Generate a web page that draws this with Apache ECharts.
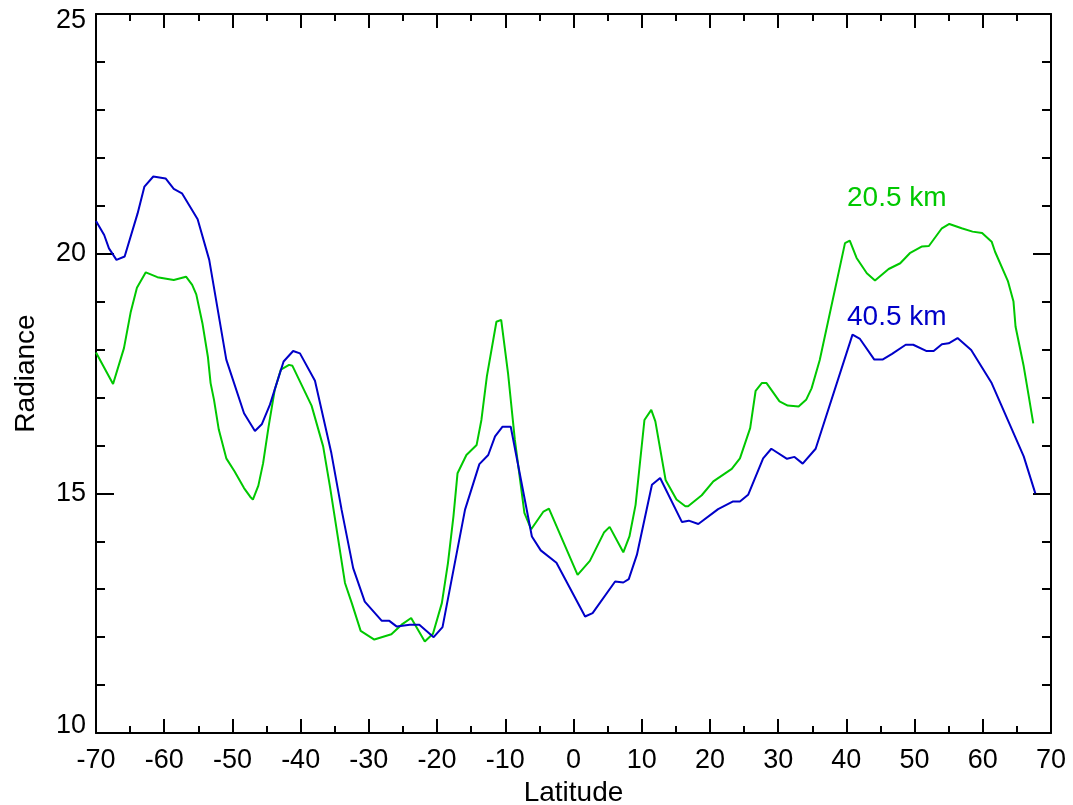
<!DOCTYPE html>
<html>
<head>
<meta charset="utf-8">
<script src="https://cdn.jsdelivr.net/npm/echarts@6/dist/echarts.min.js"></script>
<style>
html,body{margin:0;padding:0;background:#fff;}
#chart{width:1073px;height:805px;}
</style>
</head>
<body>
<div id="chart"></div>
<script>
// Latitude / radiance readings
var blueLat = [-70, -68.8, -68.1, -67.0, -65.8, -63.9, -62.9, -61.6, -59.8, -58.6, -57.4, -55.1, -53.4, -50.9, -48.3, -46.7, -45.7, -44.5, -42.5, -41.1, -40.1, -37.9, -35.5, -34.0, -32.3, -30.6, -28.1, -27.0, -25.9, -24.0, -22.6, -20.5, -19.2, -15.9, -13.8, -12.5, -11.5, -10.4, -9.2, -6.1, -4.8, -2.5, 1.7, 2.8, 6.1, 7.3, 8.1, 9.3, 11.5, 12.7, 15.9, 16.9, 18.3, 21.2, 23.4, 24.4, 25.6, 27.8, 29.0, 31.3, 32.4, 33.6, 35.5, 40.9, 42.0, 44.1, 45.3, 46.7, 48.7, 49.8, 51.7, 52.8, 54.0, 55.0, 56.3, 58.3, 61.3, 66.0, 67.7];
var blueVal = [20.68, 20.39, 20.11, 19.87, 19.94, 20.84, 21.40, 21.61, 21.57, 21.35, 21.26, 20.72, 19.87, 17.79, 16.67, 16.30, 16.44, 16.85, 17.75, 17.97, 17.92, 17.35, 15.84, 14.66, 13.44, 12.74, 12.34, 12.34, 12.22, 12.26, 12.26, 12.00, 12.21, 14.66, 15.61, 15.80, 16.19, 16.39, 16.39, 14.10, 13.81, 13.55, 12.43, 12.50, 13.16, 13.14, 13.21, 13.72, 15.18, 15.32, 14.40, 14.43, 14.36, 14.67, 14.83, 14.83, 14.97, 15.73, 15.93, 15.72, 15.76, 15.62, 15.93, 18.31, 18.22, 17.79, 17.79, 17.91, 18.10, 18.10, 17.97, 17.97, 18.11, 18.13, 18.24, 17.99, 17.30, 15.77, 15.00];

var greenLat = [-70, -67.5, -65.9, -64.9, -64.0, -62.7, -61.0, -58.6, -56.8, -55.9, -55.3, -54.4, -53.6, -53.2, -52.7, -52.0, -50.9, -49.7, -48.3, -47.4, -47.0, -46.2, -45.5, -44.7, -43.8, -42.9, -41.7, -41.2, -38.4, -36.7, -35.7, -33.5, -32.5, -31.2, -29.2, -26.7, -25.2, -23.8, -21.8, -20.6, -19.3, -18.4, -17.6, -17.0, -15.7, -14.2, -13.5, -12.7, -11.3, -10.6, -9.6, -8.6, -7.2, -6.2, -4.4, -3.6, 0.6, 2.4, 4.5, 5.3, 7.3, 8.2, 9.1, 10.4, 11.4, 12.0, 13.5, 15.1, 16.4, 16.8, 18.8, 20.5, 23.2, 24.4, 25.9, 26.7, 27.6, 28.3, 30.2, 31.4, 33.0, 34.1, 34.9, 36.1, 39.8, 40.5, 41.5, 43.0, 44.2, 46.2, 47.9, 49.3, 51.1, 52.1, 54.0, 55.1, 56.9, 58.5, 59.9, 61.3, 61.8, 63.7, 64.5, 64.8, 66.0, 66.7, 67.4];
var greenVal = [17.94, 17.28, 18.03, 18.79, 19.29, 19.61, 19.51, 19.45, 19.52, 19.35, 19.15, 18.55, 17.85, 17.30, 16.95, 16.33, 15.73, 15.46, 15.11, 14.93, 14.87, 15.16, 15.63, 16.39, 17.16, 17.58, 17.68, 17.66, 16.83, 15.98, 15.14, 13.13, 12.71, 12.13, 11.95, 12.06, 12.26, 12.40, 11.91, 12.07, 12.71, 13.55, 14.52, 15.42, 15.80, 16.01, 16.53, 17.44, 18.58, 18.62, 17.51, 16.12, 14.59, 14.25, 14.62, 14.68, 13.30, 13.59, 14.19, 14.30, 13.77, 14.10, 14.76, 16.53, 16.74, 16.50, 15.28, 14.87, 14.73, 14.73, 14.96, 15.25, 15.51, 15.73, 16.36, 17.14, 17.30, 17.30, 16.92, 16.83, 16.81, 16.95, 17.19, 17.78, 20.22, 20.27, 19.91, 19.59, 19.44, 19.68, 19.80, 20.01, 20.15, 20.16, 20.53, 20.62, 20.53, 20.46, 20.43, 20.25, 20.04, 19.42, 19.00, 18.48, 17.65, 17.06, 16.46];

var seriesNames = ['20.5 km', '40.5 km'];
var xTitle = 'Latitude';
var yTitle = 'Radiance';
var yMin = 10, yMax = 25;

function pairs(xs, ys) { return xs.map(function (x, i) { return [x, ys[i]]; }); }

var FONT = 'Liberation Sans, Arial, Helvetica, sans-serif';
var GREEN = '#00c800';
var BLUE = '#0000c8';

function xAxisDef(pos, showLabel) {
  return {
    type: 'value', position: pos, min: -70, max: 70, interval: 10,
    axisLine: { show: true, onZero: false, lineStyle: { color: '#000', width: 2 } },
    axisTick: { show: true, inside: true, length: 14, lineStyle: { color: '#000', width: 2 } },
    minorTick: { show: true, splitNumber: 2, length: 7, lineStyle: { color: '#000', width: 2 } },
    splitLine: { show: false }, minorSplitLine: { show: false },
    axisLabel: { show: showLabel, fontSize: 27, color: '#000', fontFamily: FONT, margin: 14 },
    name: showLabel ? xTitle : '', nameLocation: 'middle', nameGap: 45,
    nameTextStyle: { fontSize: 28, color: '#000', fontFamily: FONT }
  };
}
function yAxisDef(pos, showLabel) {
  return {
    type: 'value', position: pos, min: yMin, max: yMax, interval: 5,
    axisLine: { show: true, onZero: false, lineStyle: { color: '#000', width: 2 } },
    axisTick: { show: true, inside: true, length: 18, lineStyle: { color: '#000', width: 2 } },
    minorTick: { show: true, splitNumber: 5, length: 9, lineStyle: { color: '#000', width: 2 } },
    splitLine: { show: false }, minorSplitLine: { show: false },
    axisLabel: {
      show: showLabel, fontSize: 27, color: '#000', fontFamily: FONT, margin: 10,
      formatter: function (v) {
        if (v === yMax) return '{hi|' + v + '}';
        if (v === yMin) return '{lo|' + v + '}';
        return '' + v;
      },
      rich: {
        hi: { fontSize: 27, fontFamily: FONT, color: '#000', padding: [13, 0, 0, 0] },
        lo: { fontSize: 27, fontFamily: FONT, color: '#000', padding: [0, 0, 14, 0] }
      }
    },
    name: showLabel ? yTitle : '', nameLocation: 'middle', nameGap: 56, nameRotate: 90,
    nameTextStyle: { fontSize: 28, color: '#000', fontFamily: FONT }
  };
}

var chart = echarts.init(document.getElementById('chart'), null, { renderer: 'canvas' });
chart.setOption({
  animation: false,
  backgroundColor: '#fff',
  grid: { left: 96, right: 22, top: 14, bottom: 72, containLabel: false, outerBoundsMode: 'none' },
  xAxis: [xAxisDef('bottom', true), xAxisDef('top', false)],
  yAxis: [yAxisDef('left', true), yAxisDef('right', false)],
  series: [
    { name: seriesNames[0], type: 'line', xAxisIndex: 0, yAxisIndex: 0, data: pairs(greenLat, greenVal),
      showSymbol: false, symbol: 'none', lineStyle: { color: GREEN, width: 2 }, z: 3 },
    { name: seriesNames[1], type: 'line', xAxisIndex: 0, yAxisIndex: 0, data: pairs(blueLat, blueVal),
      showSymbol: false, symbol: 'none', lineStyle: { color: BLUE, width: 2 }, z: 4 }
  ],
  graphic: [
    { type: 'text', left: 847, top: 184, style: { text: seriesNames[0], fill: GREEN, fontSize: 28, fontFamily: FONT } },
    { type: 'text', left: 847, top: 303, style: { text: seriesNames[1], fill: BLUE, fontSize: 28, fontFamily: FONT } }
  ]
});
</script>
</body>
</html>
